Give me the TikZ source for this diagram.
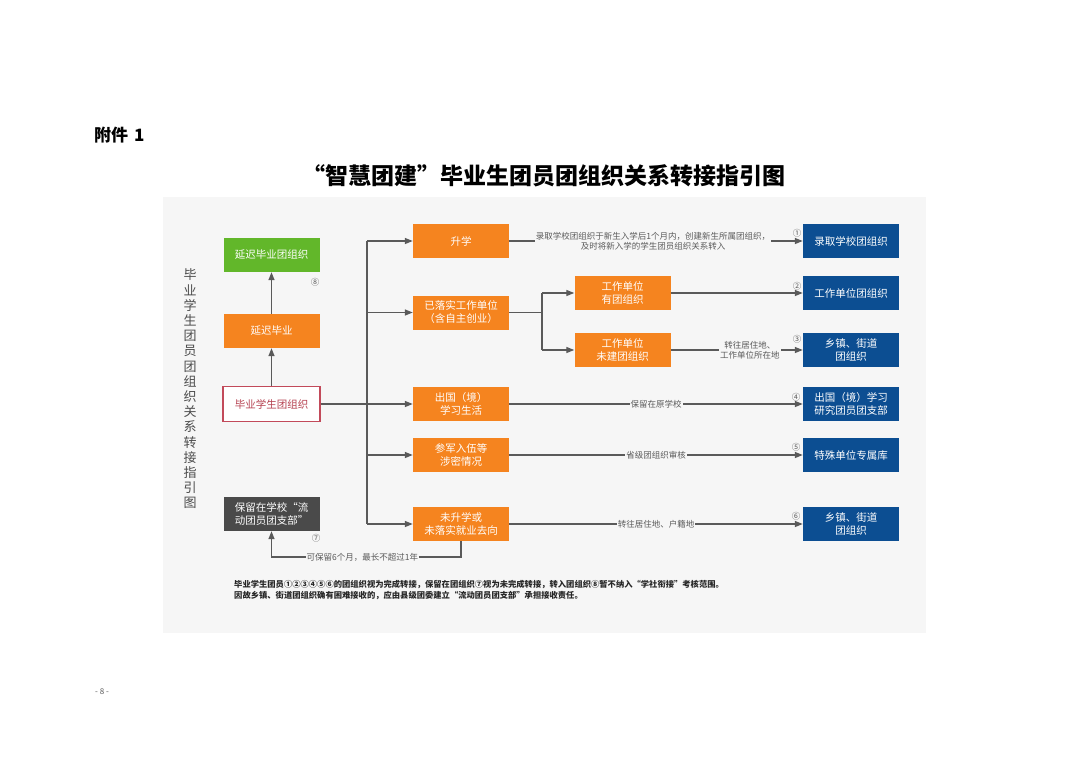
\documentclass[tikz,border=0pt]{standalone}
\usepackage{fontspec}
\setmainfont{Noto Sans CJK SC}
\usetikzlibrary{arrows.meta,calc}
\definecolor{org}{HTML}{F5841F}
\definecolor{grn}{HTML}{62B72A}
\definecolor{blu}{HTML}{0C4E92}
\definecolor{dgr}{HTML}{4A4A4A}
\definecolor{lnc}{HTML}{5A5A5A}
\definecolor{panel}{HTML}{F6F6F6}
\definecolor{redb}{HTML}{C24A5A}
\definecolor{redt}{HTML}{B5404F}
\begin{document}
\begin{tikzpicture}[x=1pt,y=-1pt,
  box/.style={minimum width=96pt,minimum height=34pt,inner sep=1pt,align=center,
    font=\fontsize{10.5}{13}\selectfont,text=white},
  obox/.style={box,fill=org},
  bbox/.style={box,fill=blu},
  gbox/.style={box,fill=grn},
  kbox/.style={box,fill=dgr},
  wbox/.style={box,fill=white,draw=redb,line width=1.2pt,text=redt,minimum width=97pt,minimum height=35pt},
  arr/.style={draw=lnc,line width=1.3pt,-{Triangle[length=8pt,width=6pt]}},
  lnk/.style={draw=lnc,line width=1.3pt},
  elabel/.style={fill=panel,inner sep=1pt,font=\fontsize{8.5}{10}\selectfont,text=lnc,align=center},
  num/.style={font=\fontsize{8.5}{9}\selectfont,text=lnc,inner sep=0pt}]
\useasboundingbox (0,0) rectangle (1080,763);
\fill[white] (0,0) rectangle (1080,763);
\fill[panel] (163,197) rectangle (926,633);

% header
\node[anchor=west,font=\bfseries\fontsize{17}{20}\selectfont,inner sep=0pt] (att) at (94,135) {附件\hspace{6pt}1};
\node[font=\bfseries\fontsize{23}{26}\selectfont,inner sep=0pt] (title) at (543.5,176) {“智慧团建”毕业生团员团组织关系转接指引图};
\node[font=\fontsize{8}{9}\selectfont,text=lnc,inner sep=0pt] (page) at (102,692) {- 8 -};

% left vertical caption
\node[font=\fontsize{13}{15.2}\selectfont,text=black!70,align=center,inner sep=0pt] (vcap) at (190,389)
  {毕\\业\\学\\生\\团\\员\\团\\组\\织\\关\\系\\转\\接\\指\\引\\图};

% left column
\node[gbox] (delayorg) at (271.5,255) {延迟毕业团组织};
\node[obox] (delay) at (271.5,331) {延迟毕业};
\node[wbox] (grad) at (271.5,404) {毕业学生团组织};
\node[kbox,align=left] (keep) at (271.5,514) {保留在学校“流\\动团员团支部”};
\node[num] (n8) at (315,282) {⑧};
\node[num] (n7) at (316,538) {⑦};

% middle column
\node[obox] (sx) at (461,241) {升学};
\node[obox] (job) at (461,312.5) {已落实工作单位\\（含自主创业）};
\node[obox] (abroad) at (461,404) {出国（境）\\学习生活};
\node[obox] (army) at (461,455) {参军入伍等\\涉密情况};
\node[obox] (none) at (461,524) {未升学或\\未落实就业去向};

% sub column
\node[obox] (has) at (622.5,293) {工作单位\\有团组织};
\node[obox] (nohas) at (622.5,350) {工作单位\\未建团组织};

% right column
\node[bbox] (r1) at (851,241) {录取学校团组织};
\node[bbox] (r2) at (851,293) {工作单位团组织};
\node[bbox] (r3) at (851,350) {乡镇、街道\\团组织};
\node[bbox] (r4) at (851,404) {出国（境）学习\\研究团员团支部};
\node[bbox] (r5) at (851,455) {特殊单位专属库};
\node[bbox] (r6) at (851,524) {乡镇、街道\\团组织};

\node[num] (n1) at (797,233) {①};
\node[num] (n2) at (797,286) {②};
\node[num] (n3) at (797,339) {③};
\node[num] (n4) at (796,397) {④};
\node[num] (n5) at (796,447) {⑤};
\node[num] (n6) at (796,516) {⑥};

% connectors, left column
\draw[arr] (grad.north) -- (delay.south);
\draw[arr] (delay.north) -- (delayorg.south);

% trunk
\coordinate (trunk) at (367,0);
\draw[lnk] (trunk |- sx.west) -- (trunk |- none.west);
\draw[arr] (grad.east) -- (abroad.west);
\draw[arr] (trunk |- sx.west) -- (sx.west);
\draw[arr] (trunk |- job.west) -- (job.west);
\draw[arr] (trunk |- army.west) -- (army.west);
\draw[arr] (trunk |- none.west) -- (none.west);

% sub branch
\coordinate (sub) at (542,0);
\draw[lnk] (job.east) -- (sub |- job.east);
\draw[lnk] (sub |- has.west) -- (sub |- nohas.west);
\draw[arr] (sub |- has.west) -- (has.west);
\draw[arr] (sub |- nohas.west) -- (nohas.west);

% to right column
\draw[arr] (sx.east) -- node[elabel,pos=0.49] (l1) {录取学校团组织于新生入学后1个月内，创建新生所属团组织，\\及时将新入学的学生团员组织关系转入} (r1.west);
\draw[arr] (has.east) -- (r2.west);
\draw[arr] (nohas.east) -- node[elabel,pos=0.6] (l3) {转往居住地、\\工作单位所在地} (r3.west);
\draw[arr] (abroad.east) -- node[elabel,pos=0.5] (l4) {保留在原学校} (r4.west);
\draw[arr] (army.east) -- node[elabel,pos=0.5] (l5) {省级团组织审核} (r5.west);
\draw[arr] (none.east) -- node[elabel,pos=0.5] (l6) {转往居住地、户籍地} (r6.west);

% bottom loop
\coordinate (lb) at (461,557);
\draw[arr] (none.south) -- (lb) -- node[elabel,pos=0.52] (l7) {可保留6个月，最长不超过1年} (lb -| keep.south) -- (keep.south);

% footnote
\node[anchor=west,font=\bfseries\fontsize{8.3}{10}\selectfont,text=black!85,inner sep=0pt] (fn1) at (234,585)
  {毕业学生团员①②③④⑤⑥的团组织视为完成转接，保留在团组织⑦视为未完成转接，转入团组织⑧暂不纳入“学社衔接”考核范围。};
\node[anchor=west,font=\bfseries\fontsize{8.3}{10}\selectfont,text=black!85,inner sep=0pt] (fn2) at (234,596)
  {因故乡镇、街道团组织确有困难接收的，应由县级团委建立“流动团员团支部”承担接收责任。};
\end{tikzpicture}
\end{document}
